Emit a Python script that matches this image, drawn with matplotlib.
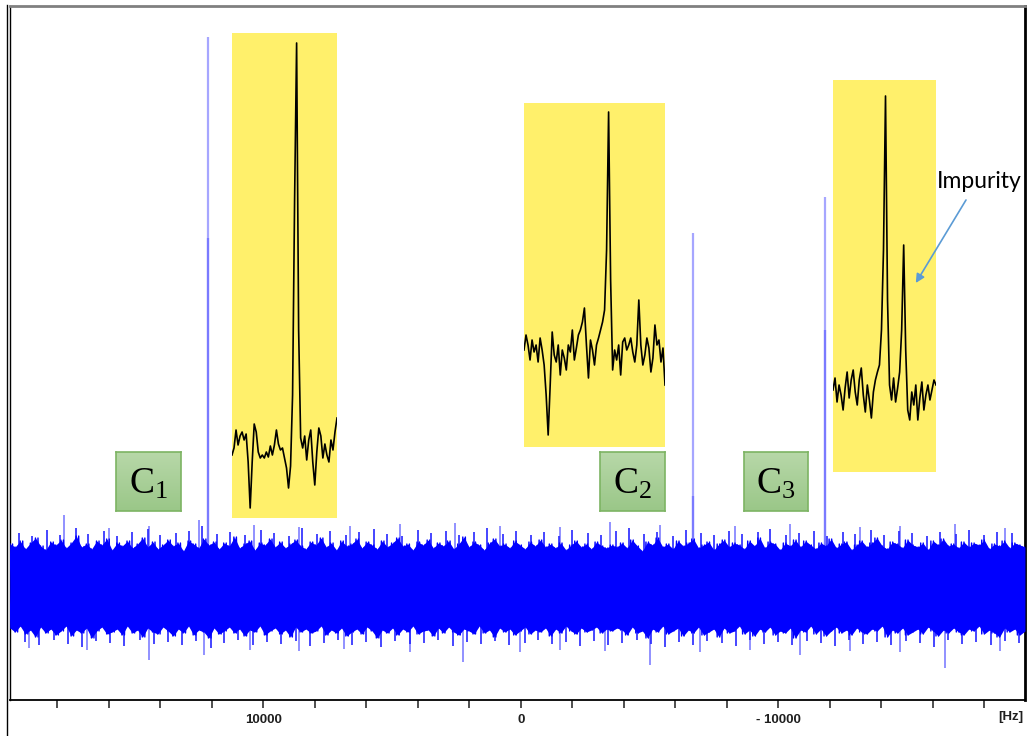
import numpy as np
import matplotlib
matplotlib.use("Agg")
import matplotlib.pyplot as plt
from matplotlib.lines import Line2D
from matplotlib.ticker import FuncFormatter, FixedLocator

# ---------------------------------------------------------------- data
# frequency window of the full 13C spectrum (Hz)
freq_left, freq_right = 19845, -19588

# baseline noise: alternating high / low excursions across the window
noise_upper = [44, 41, 47, 39, 45, 50, 42, 38, 46, 43, 48, 40, 45, 52, 41, 44, 39, 47, 43, 49,
               38, 45, 42, 47, 40, 44, 50, 41, 46, 39, 43, 48, 42, 45, 37, 47, 44, 40, 49, 43,
               46, 39, 45, 42, 51, 40, 44, 47, 38, 45, 43, 49, 41, 46, 40, 44, 48, 42, 39, 46,
               43, 50, 41, 45, 38, 47, 42, 44, 49, 40, 46, 43, 39, 47, 41, 45, 50, 42, 44, 38,
               46, 43, 48, 40, 45, 42, 47, 39, 44, 51, 41, 46, 43, 38, 45, 49, 42, 44, 40, 47,
               43, 39, 46, 42, 48, 41, 44, 40, 45, 38, 43, 47, 41, 44, 39, 46, 42, 40, 43, 41,
               45, 40, 48, 42, 37, 46, 43, 50, 41, 44, 39, 47, 42, 45, 49, 40, 43, 46, 38, 44,
               48, 41, 45, 43, 39, 47, 42, 50, 40, 46, 44, 38, 45, 42, 48, 41, 47, 43, 39, 45,
               42, 49, 40, 44, 46, 38, 43, 47, 41, 45, 50, 42, 39, 46, 44, 40, 48, 43, 41, 45,
               38, 47, 43, 49, 42, 44, 40, 46, 41, 45, 43, 48, 39, 44, 42, 47, 40, 45, 43, 41]
noise_lower = [-40, -44, -38, -46, -42, -49, -39, -45, -41, -47, -43, -38, -48, -42, -45, -40, -50, -43, -39, -46,
               -44, -41, -47, -38, -45, -42, -49, -40, -44, -46, -39, -43, -48, -41, -45, -38, -47, -42, -44, -50,
               -40, -46, -43, -39, -45, -41, -48, -42, -44, -38, -47, -43, -40, -46, -42, -49, -39, -44, -41, -45,
               -43, -38, -47, -42, -45, -40, -48, -44, -41, -46, -39, -43, -50, -42, -45, -40, -47, -41, -44, -38,
               -46, -43, -42, -48, -40, -45, -39, -44, -47, -41, -43, -46, -38, -45, -42, -49, -40, -44, -41, -47,
               -43, -39, -46, -42, -44, -40, -48, -41, -45, -38, -43, -46, -40, -44, -42, -39, -45, -41, -43, -40,
               -42, -47, -39, -45, -43, -50, -41, -44, -38, -46, -43, -40, -48, -42, -45, -39, -47, -44, -41, -49,
               -40, -45, -43, -38, -46, -42, -48, -41, -44, -39, -47, -43, -45, -40, -50, -42, -44, -38, -46, -41,
               -48, -43, -39, -45, -42, -47, -40, -44, -46, -41, -43, -38, -49, -42, -45, -40, -47, -44, -41, -46,
               -39, -43, -48, -42, -45, -40, -44, -47, -41, -43, -38, -46, -42, -45, -49, -40, -44, -41, -47, -43]

# stronger noise excursions
spike_up_hz = [19500, 19000, 18400, 17900, 17300, 16800, 16200, 15700, 15100, 14500, 14000, 13400,
               12900, 12400, 11800, 11300, 10700, 10100, 9600, 9000, 8500, 7900, 7400, 6800, 6300,
               5700, 5200, 4600, 4000, 3500, 2900, 2400, 1800, 1300, 700, 200, -400, -900, -1500,
               -2000, -2600, -3100, -3700, -4200, -4800, -5300, -5900, -6400, -7000, -7500, -8100,
               -8600, -9200, -9700, -10300, -10800, -11400, -11900, -12500, -13000, -13600, -14100,
               -14700, -15200, -15800, -16300, -16900, -17400, -18000, -18500, -19100]
spike_up_val = [55, 52, 58, 53, 60, 54, 57, 52, 56, 59, 53, 55, 57, 62, 54, 56, 53, 58, 55, 52, 60,
                54, 57, 53, 56, 59, 54, 52, 58, 55, 57, 53, 56, 60, 54, 57, 53, 56, 52, 58, 55, 53,
                57, 60, 54, 56, 52, 58, 55, 53, 57, 54, 56, 59, 53, 55, 57, 52, 56, 54, 58, 53, 57,
                55, 52, 56, 54, 58, 53, 56, 55]
spike_dn_hz = [19250, 18700, 18150, 17600, 17050, 16500, 15950, 15400, 14800, 14250, 13700, 13150,
               12600, 12050, 11550, 11000, 10400, 9850, 9300, 8750, 8200, 7650, 7100, 6550, 6000,
               5450, 4900, 4300, 3750, 3200, 2650, 2100, 1550, 1000, 450, -150, -650, -1200, -1750,
               -2300, -2850, -3400, -3950, -4500, -5050, -5600, -6150, -6700, -7250, -7800, -8350,
               -8900, -9450, -10000, -10550, -11100, -11650, -12200, -12750, -13300, -13850, -14400,
               -14950, -15500, -16050, -16600, -17150, -17700, -18250, -18800, -19350]
spike_dn_val = [-54, -57, -52, -56, -59, -53, -55, -58, -52, -56, -54, -57, -53, -60, -55, -52, -57,
                -54, -56, -53, -58, -55, -52, -57, -54, -59, -53, -56, -55, -52, -58, -54, -56, -53,
                -57, -55, -52, -56, -54, -58, -53, -57, -55, -52, -56, -59, -54, -57, -53, -55, -58,
                -52, -56, -54, -57, -53, -55, -58, -52, -56, -54, -57, -53, -55, -59, -52, -56, -54,
                -57, -53, -55]

# isolated tall excursions
flare_up_hz = [17740, 15990, 14430, 12490, 10350, 8600, 6650, 4710, 2570, 820, -1520, -3460,
               -5410, -8320, -10460, -13190, -14740, -16880, -18830]
flare_up_val = [73, 60, 62, 68, 63, 61, 62, 64, 65, 62, 61, 66, 63, 62, 64, 61, 62, 64, 60]
flare_dn_hz = [19100, 16840, 14430, 12290, 10540, 8600, 6850, 4320, 2260, 40, -1520, -3270,
               -5020, -6960, -8910, -10850, -12800, -14740, -16490, -18630]
flare_dn_val = [-60, -62, -72, -67, -62, -63, -61, -64, -74, -64, -62, -63, -77, -64, -62, -67,
                -63, -64, -80, -63]

# carbon resonances
peak_hz = [12152, -6690, -11823]
peak_height = [551, 355, 391]
peak_core_height = [350, 92, 258]
peak_labels = ["C$_1$", "C$_2$", "C$_3$"]

# expanded views of each resonance
zoom_c1 = [63, 70, 88, 73, 82, 86, 78, 84, 56, 10, 56, 94, 86, 66, 60, 63, 60, 66, 61, 72, 63,
           73, 88, 74, 68, 70, 60, 50, 30, 52, 123, 318, 475, 188, 80, 70, 82, 58, 78, 88, 56,
           33, 66, 90, 82, 60, 74, 63, 56, 78, 68, 86, 100]
zoom_c2 = [97, 112, 102, 87, 107, 95, 102, 85, 109, 97, 82, 52, 12, 62, 115, 92, 85, 102, 72,
           97, 89, 77, 102, 95, 117, 87, 99, 112, 117, 125, 139, 102, 69, 107, 97, 82, 102, 109,
           117, 125, 137, 197, 335, 167, 77, 97, 87, 102, 72, 105, 109, 97, 102, 109, 95, 85,
           102, 147, 102, 82, 92, 109, 99, 75, 89, 122, 102, 107, 85, 99, 62]
zoom_c3 = [82, 94, 70, 87, 77, 62, 84, 100, 74, 92, 102, 80, 67, 92, 104, 77, 60, 87, 72, 54, 80,
           92, 100, 107, 142, 222, 376, 172, 87, 72, 94, 70, 84, 100, 142, 227, 122, 62, 52, 80,
           67, 87, 52, 74, 90, 62, 77, 87, 72, 82, 92, 87]
impurity_index, impurity_level = 41, 189

# ---------------------------------------------------------------- figure
W, H = 1030, 736
plt.rcParams["mathtext.fontset"] = "custom"
plt.rcParams["mathtext.rm"] = "Liberation Serif"
plt.rcParams["mathtext.it"] = "Liberation Serif:italic"

fig = plt.figure(figsize=(W / 100, H / 100), dpi=100)
fig.patch.set_facecolor("white")


def box(x0, y0, x1, y1):
    """Figure-fraction rectangle from pixel corners (top-left origin)."""
    return [x0 / W, 1 - y1 / H, (x1 - x0) / W, (y1 - y0) / H]


ax = fig.add_axes(box(10, 6, 1025, 700))
ax.set_xlim(freq_left, freq_right)
ax.set_ylim(-112, 582)

# resonance lines (drawn behind the noise)
ax.vlines(peak_hz, 0, peak_height, color="#a6a6ff", lw=1.6, zorder=1)
ax.vlines(peak_hz, 0, peak_core_height, color="#7a7aff", lw=1.6, zorder=1)

# isolated excursions
ax.vlines(flare_up_hz, 0, flare_up_val, color="#7373ff", lw=1.1, zorder=1)
ax.vlines(flare_dn_hz, flare_dn_val, 0, color="#7373ff", lw=1.1, zorder=1)
ax.vlines(spike_up_hz, 0, spike_up_val, color="#2626ff", lw=1.2, zorder=2)
ax.vlines(spike_dn_hz, spike_dn_val, 0, color="#2626ff", lw=1.2, zorder=2)

# dense noise band: solid body plus two interleaved zig-zag traces
n = len(noise_upper)
hi = np.array(noise_upper, dtype=float)
lo = np.array(noise_lower, dtype=float)
body_grid = np.linspace(freq_left, freq_right, n)
ax.fill_between(body_grid, lo, hi, color="#0000ff", lw=0, zorder=3)

grid = np.linspace(freq_left, freq_right, 2 * n)
trace_a = np.empty(2 * n)
trace_a[0::2], trace_a[1::2] = hi, lo
trace_b = np.empty(2 * n)
trace_b[0::2], trace_b[1::2] = lo, hi
ax.plot(grid, trace_a, color="#0000ff", lw=1.0, zorder=3)
ax.plot(grid, trace_b, color="#0000ff", lw=1.0, zorder=3)

# axis styling
ax.set_yticks([])
ax.xaxis.set_major_locator(FixedLocator(np.arange(-18000, 18001, 2000)))


def hz_label(v, pos):
    v = int(round(v))
    if v == 0:
        return "0"
    if v == 10000:
        return "10000"
    if v == -10000:
        return "- 10000"
    return ""


ax.xaxis.set_major_formatter(FuncFormatter(hz_label))
ax.tick_params(axis="x", direction="out", length=6, width=1.1, pad=4,
               labelsize=9.5, colors="#1f1f1f")
for t in ax.get_xticklabels():
    t.set_fontweight("bold")
    t.set_family("Liberation Sans")
ax.text(0.986, -0.0245, "[Hz]", transform=ax.transAxes, ha="center", va="center",
        fontsize=9.5, fontweight="bold", family="Liberation Sans", color="#1f1f1f")

ax.spines["top"].set_color("#808080")
ax.spines["top"].set_linewidth(2)
ax.spines["right"].set_color("black")
ax.spines["right"].set_linewidth(2)
ax.spines["left"].set_color("black")
ax.spines["left"].set_linewidth(1)
ax.spines["bottom"].set_linewidth(1.3)
fig.add_artist(Line2D([7 / W, 7 / W], [0, 1 - 5 / H], transform=fig.transFigure,
                      color="black", lw=1))

# expanded views
insets = []
for trace, rect in zip([zoom_c1, zoom_c2, zoom_c3],
                       [(232, 33, 337, 518), (524, 103, 665, 447), (833, 80, 936, 472)]):
    iax = fig.add_axes(box(*rect))
    iax.set_facecolor("#fff06b")
    iax.plot(np.arange(len(trace)), trace, color="black", lw=1.2)
    iax.set_xlim(0, len(trace) - 1)
    iax.set_ylim(0, rect[3] - rect[1])
    iax.set_xticks([])
    iax.set_yticks([])
    for s in iax.spines.values():
        s.set_visible(False)
    insets.append(iax)

insets[2].annotate("", xy=(impurity_index, impurity_level), xycoords="data",
                   xytext=(966 / W, 1 - 200 / H), textcoords="figure fraction",
                   annotation_clip=False,
                   arrowprops=dict(arrowstyle="-|>", color="#5b9bd5", lw=1.2,
                                   mutation_scale=13, shrinkA=0, shrinkB=0))
fig.text(979 / W, 1 - 181 / H, "Impurity", ha="center", va="center",
         fontsize=16.5, family="Lato", color="black")

# carbon labels
top_col = np.array([0xb8, 0xd8, 0xa9]) / 255
bot_col = np.array([0x9a, 0xc7, 0x88]) / 255
shade = np.linspace(0, 1, 64)[:, None, None]
gradient = top_col * (1 - shade) + bot_col * shade
for label, rect in zip(peak_labels, [(116, 452, 181, 511), (600, 452, 665, 511),
                                     (744, 452, 808, 511)]):
    bx = fig.add_axes(box(*rect))
    bx.imshow(gradient, aspect="auto", extent=(0, 1, 0, 1))
    bx.set_xlim(0, 1)
    bx.set_ylim(0, 1)
    bx.set_xticks([])
    bx.set_yticks([])
    for s in bx.spines.values():
        s.set_color("#7db463")
        s.set_linewidth(1.2)
    bx.text(0.5, 0.46, label, ha="center", va="center", fontsize=27,
            family="Liberation Serif", color="black", transform=bx.transAxes)

fig.savefig("out.png", dpi=100)
